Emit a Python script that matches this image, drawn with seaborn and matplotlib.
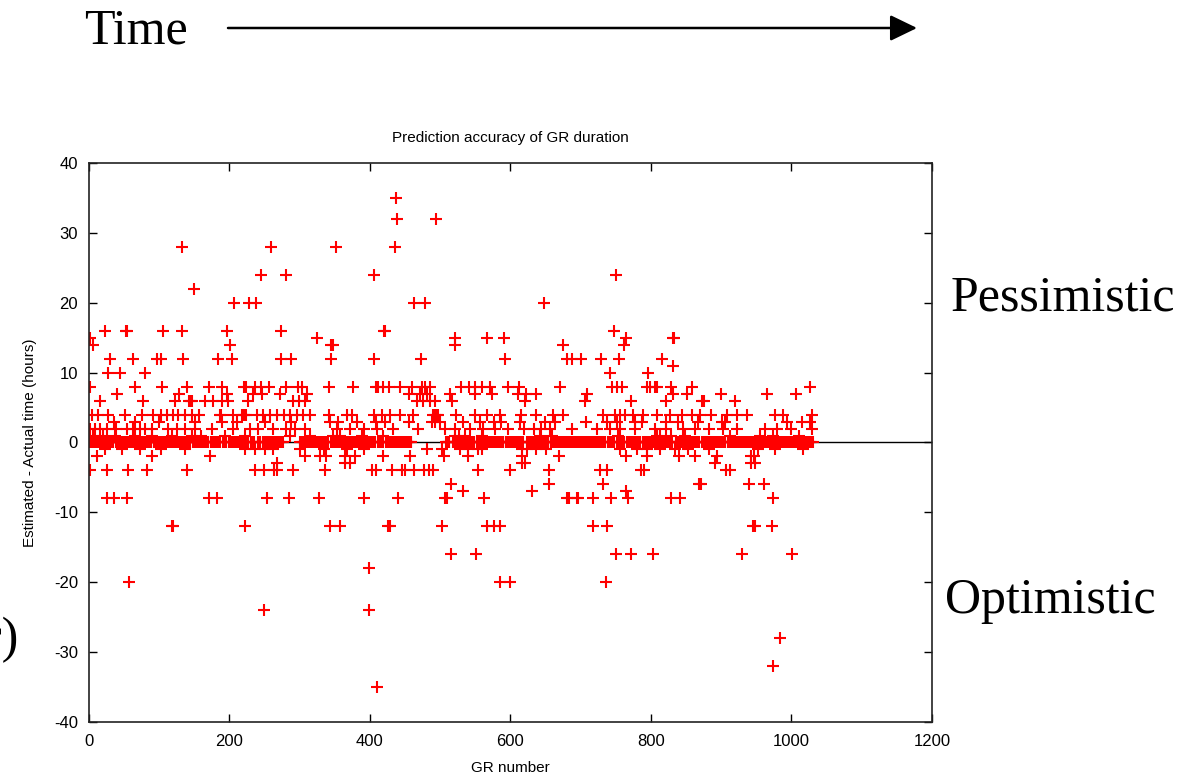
import pandas as pd
import matplotlib
matplotlib.use("Agg")
import matplotlib.pyplot as plt
from matplotlib.patches import FancyArrowPatch
import seaborn as sns

# GR numbers, grouped by the (estimated - actual) hours value
gr_plus35 = [437]
gr_plus32 = [438, 494]
gr_plus28 = [133, 259, 351, 436]
gr_plus24 = [245, 281, 405, 750]
gr_plus22 = [149]
gr_plus20 = [206, 228, 238, 462, 479, 648]
gr_plus16 = [23, 52, 54, 106, 133, 196, 274, 420, 422, 747]
gr_plus15 = [1, 324, 521, 567, 591, 764, 831, 833]
gr_plus14 = [6, 201, 344, 347, 521, 675, 761]
gr_plus12 = [30, 62, 97, 103, 134, 184, 203, 274, 288, 344, 405, 473, 592,
             681, 687, 700, 729, 754, 816]
gr_plus11 = [832]
gr_plus10 = [27, 44, 80, 742, 796]
gr_plus8 = [1, 66, 104, 139, 171, 189, 220, 224, 236, 245, 256, 280, 298, 303,
            342, 376, 408, 412, 419, 427, 443, 460, 474, 478, 485, 529, 541,
            550, 560, 571, 597, 612, 671, 744, 751, 759, 794, 799, 806, 809,
            829, 858, 1026]
gr_plus7 = [40, 128, 197, 234, 246, 272, 311, 455, 471, 481, 514, 549, 573,
            611, 622, 636, 709, 832, 851, 900, 965, 1007]
gr_plus6 = [16, 77, 122, 142, 145, 147, 165, 177, 190, 198, 227, 291, 299, 308,
            467, 475, 485, 492, 517, 620, 706, 771, 822, 872, 876, 920]
gr_plus4 = [4, 13, 27, 51, 75, 91, 103, 111, 120, 127, 137, 146, 156, 186, 188,
            205, 218, 220, 222, 224, 239, 248, 258, 267, 277, 286, 296, 305,
            315, 341, 367, 374, 405, 417, 428, 443, 461, 490, 493, 495, 497,
            523, 549, 566, 585, 615, 637, 661, 675, 732, 749, 756, 763, 775,
            789, 808, 827, 844, 858, 870, 886, 908, 922, 936, 977, 988, 1029]
gr_plus3 = [35, 65, 99, 151, 189, 210, 251, 288, 343, 355, 381, 409, 421, 455,
            488, 492, 500, 533, 557, 576, 587, 613, 649, 663, 708, 737, 751,
            777, 787, 822, 839, 867, 901, 905, 993, 1015, 1026]
gr_plus2 = [1, 8, 16, 25, 39, 54, 63, 73, 80, 89, 113, 125, 137, 151, 175, 205,
            229, 241, 262, 281, 293, 307, 353, 372, 391, 410, 433, 469, 507,
            521, 542, 561, 578, 597, 619, 633, 644, 656, 687, 723, 742, 756,
            777, 806, 822, 846, 863, 882, 903, 922, 962, 979, 1000, 1029]
gr_plus1 = [6, 20, 37, 65, 89, 118, 146, 160, 194, 222, 286, 315, 348, 357,
            388, 419, 521, 526, 535, 559, 642, 659, 753, 808, 813, 829, 848,
            913, 955, 974, 1010]
gr_minus1 = [23, 47, 73, 103, 137, 222, 236, 251, 262, 300, 334, 367, 391, 481,
             502, 528, 540, 554, 559, 616, 623, 637, 651, 756, 780, 794, 813,
             834, 853, 882, 953, 977, 1017]
gr_minus2 = [12, 90, 172, 307, 329, 338, 364, 378, 419, 457, 505, 540, 616,
             669, 765, 794, 840, 862, 894, 942, 946]
gr_minus3 = [267, 365, 372, 616, 621, 891, 942, 948]
gr_minus4 = [1, 25, 55, 83, 140, 237, 249, 264, 267, 290, 336, 403, 409, 432,
             446, 450, 462, 477, 484, 489, 554, 600, 655, 727, 738, 786, 790,
             907, 913]
gr_minus6 = [516, 655, 732, 869, 871, 940, 961]
gr_minus7 = [532, 630, 765]
gr_minus8 = [25, 36, 54, 171, 182, 253, 284, 327, 392, 440, 507, 509, 562, 681,
             683, 694, 696, 718, 743, 767, 829, 842, 974]
gr_minus12 = [118, 120, 222, 343, 357, 426, 428, 502, 567, 576, 585, 718, 737,
              945, 948, 972]
gr_minus16 = [515, 551, 750, 771, 803, 929, 1001]
gr_minus18 = [398]
gr_minus20 = [57, 585, 600, 736]
gr_minus24 = [249, 398]
gr_minus28 = [983]
gr_minus32 = [974]
gr_minus35 = [410]

# stretches of GR numbers where the estimate was spot on (solid band at 0)
zero_run_start = [0, 300, 507]
zero_run_end = [276, 460, 1030]

levels = {
    35: gr_plus35, 32: gr_plus32, 28: gr_plus28, 24: gr_plus24, 22: gr_plus22,
    20: gr_plus20, 16: gr_plus16, 15: gr_plus15, 14: gr_plus14, 12: gr_plus12,
    11: gr_plus11, 10: gr_plus10, 8: gr_plus8, 7: gr_plus7, 6: gr_plus6,
    4: gr_plus4, 3: gr_plus3, 2: gr_plus2, 1: gr_plus1, -1: gr_minus1,
    -2: gr_minus2, -3: gr_minus3, -4: gr_minus4, -6: gr_minus6, -7: gr_minus7,
    -8: gr_minus8, -12: gr_minus12, -16: gr_minus16, -18: gr_minus18,
    -20: gr_minus20, -24: gr_minus24, -28: gr_minus28, -32: gr_minus32,
    -35: gr_minus35,
}

rows = []
taken = set()
for dev, grs in levels.items():
    for g in grs:
        rows.append((g, dev))
        taken.add(g)
for a, b in zip(zero_run_start, zero_run_end):
    for g in range(a, b + 1):
        if g not in taken:
            rows.append((g, 0))
df = pd.DataFrame(rows, columns=["gr", "dev"])

sns.set_style("ticks")
plt.rcParams["font.family"] = ["Liberation Sans", "DejaVu Sans"]
plt.rcParams["axes.unicode_minus"] = False
plt.rcParams["text.color"] = "black"
plt.rcParams["axes.labelcolor"] = "black"

fig = plt.figure(figsize=(11.93, 7.78), dpi=100)
ax = fig.add_axes([0.0746, 0.072, 0.7066, 0.7185])

ax.axhline(0, color="black", lw=1, zorder=1)
sns.scatterplot(data=df, x="gr", y="dev", marker="+", color="red", s=68,
                linewidth=1.5, ax=ax, zorder=2, legend=False)

ax.set_xlim(0, 1200)
ax.set_ylim(-40, 40)
ax.set_xticks(range(0, 1201, 200))
ax.set_yticks(range(-40, 41, 10))
ax.tick_params(direction="in", length=6, width=1, top=True, right=True,
               labelsize=12, colors="black")
ax.tick_params(axis="y", pad=8)
ax.tick_params(axis="x", pad=9)
for sp in ax.spines.values():
    sp.set_linewidth(1.2)
    sp.set_color("#222222")

ax.set_title("Prediction accuracy of GR duration", fontsize=11, pad=15,
             color="black")
ax.set_xlabel("GR number", fontsize=11, labelpad=8)
ax.set_ylabel("Estimated - Actual time (hours)", fontsize=11, labelpad=12)

serif = ["Liberation Serif", "DejaVu Serif"]
fig.text(84 / 1193, 1 - 43 / 778, "Time", family=serif, fontsize=36,
         ha="left", va="baseline", color="black")
fig.text(951 / 1193, 1 - 310 / 778, "Pessimistic", family=serif, fontsize=36,
         ha="left", va="baseline", color="black")
fig.text(945 / 1193, 1 - 613 / 778, "Optimistic", family=serif, fontsize=36,
         ha="left", va="baseline", color="black")
# the reference crops this label at the left edge, only its tail shows
fig.text(18 / 1193, 1 - 652 / 778, "r)", family=serif, fontsize=36,
         ha="right", va="baseline", color="black")

arrow = FancyArrowPatch((228 / 1193, 1 - 28 / 778), (917 / 1193, 1 - 28 / 778),
                        transform=fig.transFigure,
                        arrowstyle="-|>,head_length=1.65,head_width=0.8",
                        mutation_scale=10, lw=1.8, color="black",
                        shrinkA=0, shrinkB=0)
fig.add_artist(arrow)

fig.savefig("out.png", dpi=100)
